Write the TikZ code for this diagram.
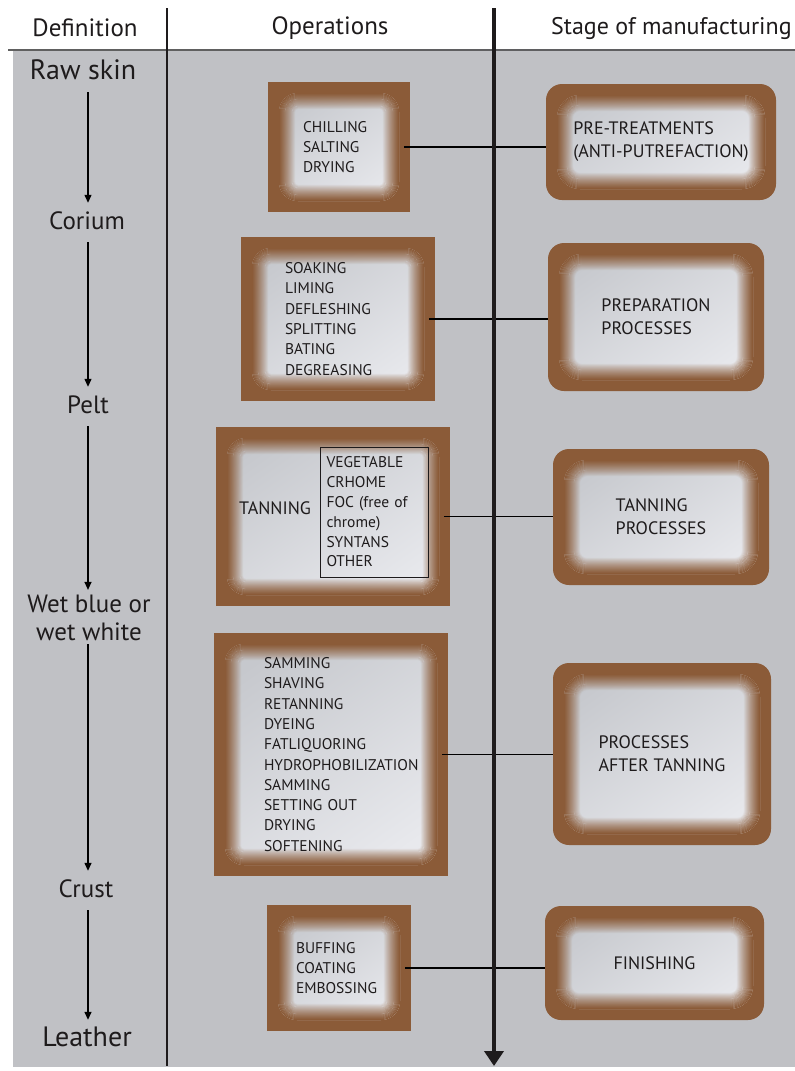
\documentclass[tikz,border=0pt]{standalone}
\usepackage{fontspec}
\setmainfont{PT Sans}
\usetikzlibrary{arrows.meta}
\definecolor{bgc}{RGB}{192,193,197}
\definecolor{brownc}{RGB}{139,91,56}
\definecolor{innerA}{RGB}{198,200,205}
\definecolor{innerB}{RGB}{232,233,237}
\definecolor{txt}{RGB}{30,27,28}
\definecolor{hline}{RGB}{95,95,97}
\tikzset{
  glow/.style={fill=brownc, draw=none, inner sep=0pt, align=left,
    path picture={
      \shade[top color=innerA, bottom color=innerB, shading angle=35, rounded corners=#1-11pt]
        ([shift={(11pt,-11pt)}]path picture bounding box.north west) rectangle
        ([shift={(-11pt,11pt)}]path picture bounding box.south east);
      \foreach \i in {0,...,15}{
        \pgfmathsetmacro{\gd}{11.5+\i}
        \pgfmathsetmacro{\go}{(16-\i)/16}
        \draw[brownc, draw opacity=\go, line width=1.15pt, rounded corners=#1-\gd pt]
          ([shift={(\gd pt,-\gd pt)}]path picture bounding box.north west) rectangle
          ([shift={(-\gd pt,\gd pt)}]path picture bounding box.south east);
      }
    }},
  opbox/.style={glow=30pt, font=\fontsize{15.5}{20.3}\selectfont},
  stbox/.style={glow=34pt, rounded corners=16pt, font=\fontsize{18}{23}\selectfont},
  deflabel/.style={font=\fontsize{25}{28}\selectfont, inner sep=0pt, text height=18pt, text depth=6pt, align=center},
  bigdef/.style={deflabel, font=\fontsize{28}{30}\selectfont},
  headlabel/.style={font=\fontsize{25}{28}\selectfont, inner sep=0pt},
  defarrow/.style={line width=1.3pt, -{Triangle[width=7pt,length=8pt]}, shorten <=7pt, shorten >=8pt},
  conn/.style={line width=1.2pt, shorten <=-6pt}
}
\begin{document}
\begin{tikzpicture}[x=1pt,y=-1pt, text=txt]
\useasboundingbox (0,0) rectangle (795,1071);
\fill[bgc] (13,51) rectangle (795,1067);
\draw[line width=2.4pt, gray!75!black] (8,50) -- (258,50);
\draw[line width=2.4pt, hline] (258,50) -- (795,50);

% headers
\node[headlabel] (hdef) at (85,28) {Definition};
\node[headlabel] (hops) at (330,28) {Operations};
\node[headlabel, font=\fontsize{24}{28}\selectfont, anchor=west] (hstage) at (551,28) {Stage of manufacturing};

% separators
\coordinate (sepT) at (167,8);
\coordinate (sepB) at (167,1066);
\draw[line width=1.2pt, txt] (sepT) -- (sepB);

% definitions
\node[bigdef] (raw) at (83,73) {Raw skin};
\node[deflabel] (corium) at (87,223) {Corium};
\node[deflabel] (pelt) at (88,407) {Pelt};
\node[font=\fontsize{25}{28}\selectfont, inner sep=0pt, align=center] (wet) at (89,618) {Wet blue or\\wet white};
\node[deflabel] (crust) at (86,891) {Crust};
\node[bigdef] (leather) at (87,1040) {Leather};
\coordinate (a1) at (88,73);   \coordinate (a2) at (88,223);
\coordinate (a3) at (88,407);  \coordinate (a4) at (88,618);
\coordinate (a5) at (88,891);  \coordinate (a6) at (88,1040);
\draw[defarrow] (raw.south -| a1) -- (corium.north -| a2);
\draw[defarrow] (corium.south -| a2) -- (pelt.north -| a3);
\draw[defarrow, shorten >=5pt] (pelt.south -| a3) -- (wet.north -| a4);
\draw[defarrow, shorten <=3pt] (wet.south -| a4) -- (crust.north -| a5);
\draw[defarrow] (crust.south -| a5) -- (leather.north -| a6);

% operation boxes
\node[opbox, minimum width=142pt, minimum height=130pt, inner xsep=35pt, text width=72pt] (op1) at (339,147)
  {CHILLING\\SALTING\\DRYING};
\node[opbox, minimum width=194pt, minimum height=164pt, inner xsep=44pt, text width=106pt] (op2) at (338,319)
  {SOAKING\\LIMING\\DEFLESHING\\SPLITTING\\BATING\\DEGREASING};
\node[opbox, minimum width=234pt, minimum height=179pt] (op3) at (333,516.5) {};
\node[font=\fontsize{18}{20}\selectfont, inner sep=0pt] (tan) at (275,508) {TANNING};
\node[draw=txt, line width=1pt, anchor=west, text width=96pt, inner xsep=6pt, minimum height=130pt,
  align=left, font=\fontsize{15.5}{19.8}\selectfont] (tanlist) at (320,512)
  {VEGETABLE\\CRHOME\\FOC (free of\\chrome)\\SYNTANS\\OTHER};
\node[opbox, minimum width=234pt, minimum height=243pt, inner xsep=50pt, text width=134pt] (op4) at (331,754.5)
  {SAMMING\\SHAVING\\RETANNING\\DYEING\\FATLIQUORING\\HYDROPHOBILIZATION\\SAMMING\\SETTING OUT\\DRYING\\SOFTENING};
\node[opbox, minimum width=144pt, minimum height=126pt, inner xsep=29pt, text width=86pt] (op5) at (339,968)
  {BUFFING\\COATING\\EMBOSSING};

% stage boxes
\node[stbox, minimum width=230pt, minimum height=116pt] (st1) at (661,142)
  {PRE-TREATMENTS\\(ANTI-PUTREFACTION)};
\node[stbox, minimum width=216pt, minimum height=148pt] (st2) at (656,317)
  {PREPARATION\\PROCESSES};
\node[stbox, minimum width=216pt, minimum height=136pt] (st3) at (661,517)
  {TANNING\\PROCESSES};
\node[stbox, minimum width=218pt, minimum height=182pt] (st4) at (662,754)
  {PROCESSES\\AFTER TANNING};
\node[stbox, minimum width=219pt, minimum height=114pt] (st5) at (654.5,963)
  {FINISHING};

% connectors
\draw[conn] (op1.east) -- (op1.east -| st1.west);
\draw[conn] (op2.east) -- (op2.east -| st2.west);
\draw[conn] (op3.east) -- (op3.east -| st3.west);
\draw[conn] (op4.east) -- (op4.east -| st4.west);
\draw[conn] (op5.east) -- (op5.east -| st5.west);

% main time arrow
\coordinate (axT) at (494,8);
\coordinate (axB) at (494,1066);
\draw[line width=4.5pt, txt, -{Triangle[width=19pt,length=15pt]}] (axT) -- (axB);
\end{tikzpicture}
\end{document}
